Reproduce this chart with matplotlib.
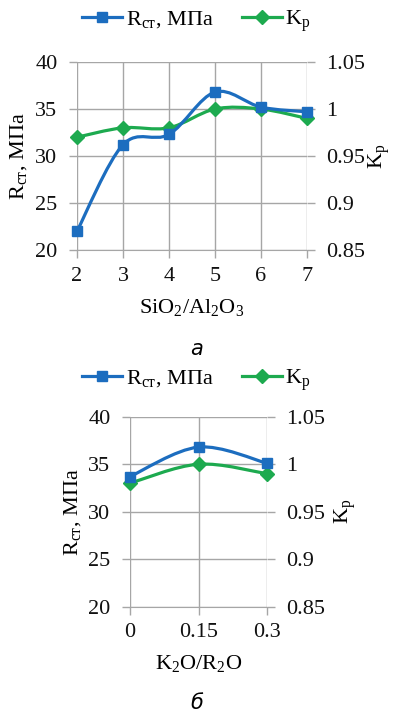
import matplotlib
matplotlib.use('Agg')
import matplotlib.pyplot as plt
from matplotlib.path import Path
from matplotlib.patches import PathPatch
from matplotlib.lines import Line2D
import numpy as np

plt.rcParams['font.family'] = ['Liberation Serif', 'DejaVu Serif']
plt.rcParams['mathtext.fontset'] = 'custom'
plt.rcParams['mathtext.rm'] = 'Liberation Serif'
plt.rcParams['mathtext.it'] = 'Liberation Serif:italic'

# panel a: SiO2/Al2O3
sio2_ratio = [2, 3, 4, 5, 6, 7]
r_a = [22.0, 31.2, 32.3, 36.8, 35.2, 34.7]
kp_a = [0.97, 0.98, 0.98, 1.0, 1.0, 0.99]

# panel б: K2O/R2O
k2o_ratio = [0, 0.15, 0.3]
r_b = [33.7, 36.8, 35.1]
kp_b = [0.98, 1.0, 0.99]

blue = '#1c6dbf'
green = '#1daa4f'
grid_col = '#a6a6a6'
fs = 16


def smooth_path(x, y):
    # cubic bezier through the points (catmull-rom style tangents)
    x = np.asarray(x, float)
    y = np.asarray(y, float)
    verts = [(x[0], y[0])]
    codes = [Path.MOVETO]
    n = len(x)
    for i in range(n - 1):
        i0 = max(i - 1, 0)
        i3 = min(i + 2, n - 1)
        c1 = (x[i] + (x[i + 1] - x[i0]) / 6, y[i] + (y[i + 1] - y[i0]) / 6)
        c2 = (x[i + 1] - (x[i3] - x[i]) / 6, y[i + 1] - (y[i3] - y[i]) / 6)
        verts += [c1, c2, (x[i + 1], y[i + 1])]
        codes += [Path.CURVE4] * 3
    return Path(verts, codes)


def panel(rect, xs, r, kp, xlabel, caption, cap_y, leg_y, xticklabels,
          left_lab_x, right_lab_x):
    ax = fig.add_axes(rect)
    ax2 = ax.twinx()
    ax.set_xlim(xs[0], xs[-1])
    ax.set_ylim(20, 40)
    ax2.set_ylim(0.85, 1.05)
    ax.set_xticks(xs)
    ax.set_xticklabels(xticklabels)
    ax.set_yticks([20, 25, 30, 35, 40])
    ax2.set_yticks([0.85, 0.9, 0.95, 1.0, 1.05])
    ax2.set_yticklabels(['0.85', '0.9', '0.95', '1', '1.05'])
    ax.grid(True, color=grid_col, lw=1)
    ax.set_axisbelow(True)
    for a in (ax, ax2):
        for s in a.spines.values():
            s.set_visible(False)
    ax.spines['bottom'].set_visible(True)
    ax.spines['bottom'].set_color(grid_col)
    ax.tick_params(axis='both', colors=grid_col, labelcolor='#111111',
                   labelsize=fs, length=6, width=1)
    ax.tick_params(axis='y', pad=8)
    ax.tick_params(axis='x', pad=6)
    ax2.tick_params(axis='y', colors=grid_col, labelcolor='#111111',
                    labelsize=fs, length=6, width=1, pad=8)

    ax2.add_patch(PathPatch(smooth_path(xs, kp), fill=False, ec=green, lw=2.3,
                            zorder=3, clip_on=False))
    ax2.plot(xs, kp, ls='none', marker='D', ms=7, color=green, zorder=4,
             clip_on=False)
    ax2.add_patch(PathPatch(smooth_path(xs, r), fill=False, ec=blue, lw=2.3,
                            zorder=5, transform=ax.transData, clip_on=False))
    ax2.plot(xs, r, ls='none', marker='s', ms=7.5, color=blue, zorder=6,
             transform=ax.transData, clip_on=False)

    ax.set_xlabel(xlabel, fontsize=fs, labelpad=8)
    ax.set_ylabel(r'$\mathregular{R_{ст}}$, МПа', fontsize=fs)
    ax2.set_ylabel(r'$\mathregular{K_p}$', fontsize=fs)
    ax.yaxis.set_label_coords(left_lab_x, 0.5)
    ax2.yaxis.set_label_coords(right_lab_x, 0.5)

    handles = [
        Line2D([], [], color=blue, lw=2.3, marker='s', ms=7.5),
        Line2D([], [], color=green, lw=2.3, marker='D', ms=7),
    ]
    fig.legend(handles, [r'$\mathregular{R_{ст}}$, МПа', r'$\mathregular{K_p}$'],
               loc='center', bbox_to_anchor=(0.5, leg_y), ncol=2, frameon=False,
               fontsize=fs, handlelength=1.8, handletextpad=0.15,
               columnspacing=1.3)
    fig.text(0.5, cap_y, caption, ha='center', va='center', fontsize=15,
             style='italic', family='DejaVu Sans')


fig = plt.figure(figsize=(3.93, 7.23), dpi=100)

panel([77 / 393, 1 - 250 / 723, 230 / 393, 188 / 723], sio2_ratio, r_a, kp_a,
      r'$\mathregular{SiO_2/Al_2O_3}$', 'а', 1 - 349 / 723, 1 - 21 / 723,
      [str(v) for v in sio2_ratio], (29 - 77) / 230, (366 - 77) / 230)
panel([130 / 393, 1 - 606.7 / 723, 137 / 393, 190 / 723], k2o_ratio, r_b, kp_b,
      r'$\mathregular{K_2O/R_2O}$', 'б', 1 - 703 / 723, 1 - 380 / 723,
      ['0', '0.15', '0.3'], (83 - 130) / 137, (333 - 130) / 137)

fig.savefig('out.png', dpi=100)
